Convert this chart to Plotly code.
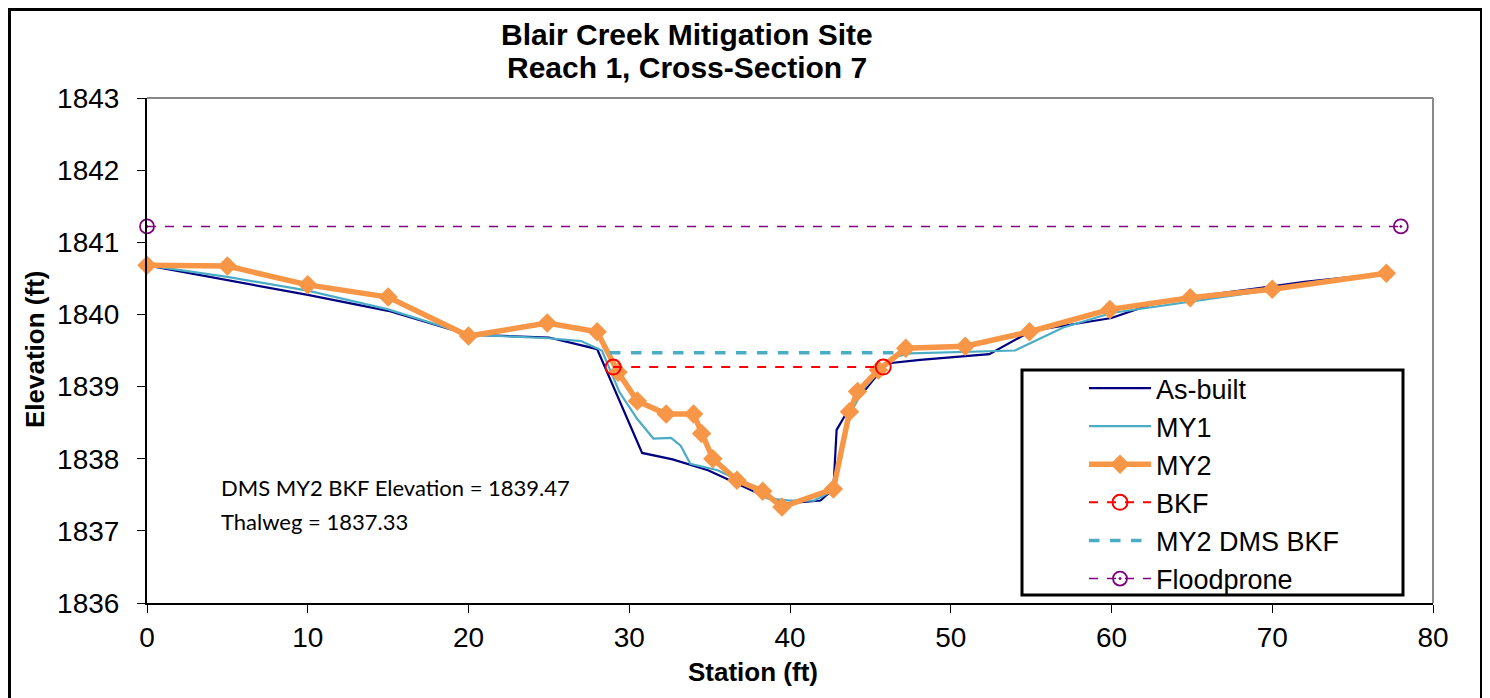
import plotly.graph_objects as go

# ---- data ----
sta_ab = [0, 10, 15, 20, 25, 28.0, 30.8, 32.7, 34.9, 36.5, 38.5, 39.8, 41.9, 42.7, 42.9, 43.5, 45.5, 46.0, 48.1, 52.4, 55.0, 60.0, 63.0, 72.0, 77.1]
elev_ab = [1840.68, 1840.27, 1840.05, 1839.72, 1839.68, 1839.52, 1838.08, 1837.99, 1837.84, 1837.68, 1837.47, 1837.38, 1837.42, 1837.58, 1838.40, 1838.63, 1839.18, 1839.32, 1839.37, 1839.45, 1839.77, 1839.95, 1840.18, 1840.45, 1840.57]

sta_my1 = [0, 5, 10, 15, 20, 25, 27.0, 28.3, 29.4, 30.5, 31.5, 32.6, 33.2, 33.8, 35.5, 37.0, 38.6, 40.0, 41.5, 42.6, 43.6, 44.5, 46.3, 47.5, 54.0, 57.0, 60.0, 65.0, 70.0, 77.1]
elev_my1 = [1840.68, 1840.52, 1840.33, 1840.07, 1839.72, 1839.67, 1839.63, 1839.50, 1838.92, 1838.55, 1838.28, 1838.29, 1838.18, 1837.93, 1837.84, 1837.68, 1837.45, 1837.42, 1837.42, 1837.55, 1838.55, 1838.95, 1839.40, 1839.46, 1839.50, 1839.82, 1840.02, 1840.18, 1840.35, 1840.57]

sta_my2 = [0, 5, 10, 15, 20, 24.9, 28.0, 29.3, 30.5, 32.3, 34.0, 34.5, 35.2, 36.7, 38.3, 39.5, 42.7, 43.7, 44.2, 45.5, 47.2, 50.9, 54.9, 59.9, 64.9, 70.0, 77.1]
elev_my2 = [1840.68, 1840.67, 1840.41, 1840.24, 1839.70, 1839.88, 1839.76, 1839.20, 1838.80, 1838.62, 1838.62, 1838.35, 1838.00, 1837.70, 1837.55, 1837.33, 1837.58, 1838.65, 1838.93, 1839.23, 1839.53, 1839.56, 1839.76, 1840.07, 1840.23, 1840.35, 1840.57]

sta_bkf = [29.0, 45.8]
elev_bkf = [1839.27, 1839.27]

sta_dms = [28.8, 46.7]
elev_dms = [1839.47, 1839.47]

sta_fp = [0, 78.0]
elev_fp = [1841.22, 1841.22]

x_ticks = [0, 10, 20, 30, 40, 50, 60, 70, 80]
y_ticks = [1836, 1837, 1838, 1839, 1840, 1841, 1842, 1843]

title_lines = ["Blair Creek Mitigation Site", "Reach 1, Cross-Section 7"]
note_lines = ["DMS MY2 BKF Elevation = 1839.47", "Thalweg = 1837.33"]

# ---- layout geometry (page pixels; page body has an 8px margin) ----
OFF = 8
PAGE_W, PAGE_H = 1490, 698
W, H = PAGE_W - OFF, PAGE_H - OFF
L, R, T, B = 147, 1433, 98, 603          # plot area in page pixels
pw, ph = R - L, B - T


def px(xp):
    return (xp - L) / pw


def py(yp):
    return (B - yp) / ph


FONT = "Liberation Sans, Arial, sans-serif"
NOTE_FONT = "Lato, Carlito, sans-serif"

fig = go.Figure()
fig.add_trace(go.Scatter(x=sta_ab, y=elev_ab, name="As-built", mode="lines",
                         line=dict(color="#000080", width=2.2), legendgroup="a"))
fig.add_trace(go.Scatter(x=sta_my1, y=elev_my1, name="MY1", mode="lines",
                         line=dict(color="#4bacc6", width=2.2), legendgroup="b"))
fig.add_trace(go.Scatter(x=sta_my2, y=elev_my2, name="MY2", mode="lines+markers",
                         line=dict(color="#f79646", width=5.5),
                         marker=dict(symbol="diamond", size=15, color="#f79646"), legendgroup="c"))
fig.add_trace(go.Scatter(x=sta_bkf, y=elev_bkf, name="BKF", mode="lines+markers",
                         line=dict(color="#ff0000", width=2, dash="dash"),
                         marker=dict(symbol="circle-open", size=15, color="#ff0000", line=dict(width=2)),
                         legendgroup="d"))
fig.add_trace(go.Scatter(x=sta_dms, y=elev_dms, name="MY2 DMS BKF", mode="lines",
                         line=dict(color="#4bacc6", width=3.5, dash="dash"), legendgroup="e"))
fig.add_trace(go.Scatter(x=sta_fp, y=elev_fp, name="Floodprone", mode="lines+markers",
                         line=dict(color="#800080", width=1.5, dash="dash"),
                         marker=dict(symbol="circle-open-dot", size=14, color="#800080", line=dict(width=1.8)),
                         legendgroup="f"))
fig.update_traces(cliponaxis=False)

shapes = [
    # outer frame
    dict(type="rect", xref="paper", yref="paper", x0=px(9.5), x1=px(1481.5), y0=py(702), y1=py(9.5),
         line=dict(color="black", width=3)),
    # plot area top / right border
    dict(type="line", xref="paper", yref="paper", x0=0, x1=1, y0=1, y1=1,
         line=dict(color="#898989", width=2)),
    dict(type="line", xref="paper", yref="paper", x0=1, x1=1, y0=0, y1=1,
         line=dict(color="#898989", width=2)),
    # legend box
    dict(type="rect", xref="paper", yref="paper", x0=px(1022), x1=px(1403), y0=py(595), y1=py(370),
         line=dict(color="black", width=3), fillcolor="white", layer="below"),
]

annotations = [
    dict(text="<b>" + title_lines[0] + "</b>", xref="paper", yref="paper",
         x=px(687), y=py(35), xanchor="center", yanchor="middle", showarrow=False,
         font=dict(family=FONT, size=30, color="black")),
    dict(text="<b>" + title_lines[1] + "</b>", xref="paper", yref="paper",
         x=px(687), y=py(68), xanchor="center", yanchor="middle", showarrow=False,
         font=dict(family=FONT, size=30, color="black")),
    dict(text="<b>Station (ft)</b>", xref="paper", yref="paper", x=px(753), y=py(672),
         xanchor="center", yanchor="middle", showarrow=False,
         font=dict(family=FONT, size=26, color="black")),
    dict(text="<b>Elevation (ft)</b>", xref="paper", yref="paper", x=px(35), y=py(350),
         xanchor="center", yanchor="middle", showarrow=False, textangle=-90,
         font=dict(family=FONT, size=26, color="black")),
    dict(text=note_lines[0], xref="paper", yref="paper", x=px(219), y=py(487),
         xanchor="left", yanchor="middle", showarrow=False,
         font=dict(family=NOTE_FONT, size=22, color="black")),
    dict(text=note_lines[1], xref="paper", yref="paper", x=px(219), y=py(521),
         xanchor="left", yanchor="middle", showarrow=False,
         font=dict(family=NOTE_FONT, size=22, color="black")),
]

fig.update_layout(
    width=W, height=H,
    margin=dict(l=L - OFF, r=PAGE_W - R, t=T - OFF, b=PAGE_H - B),
    paper_bgcolor="white", plot_bgcolor="white",
    showlegend=True,
    legend=dict(x=px(1084), y=py(364), xanchor="left", yanchor="top",
                bgcolor="rgba(0,0,0,0)", borderwidth=0, itemwidth=62,
                tracegroupgap=0,
                font=dict(family=FONT, size=27, color="black")),
    xaxis=dict(range=[0, 80], tickvals=x_ticks, ticktext=[str(v) for v in x_ticks],
               showgrid=False, zeroline=False, showline=True, linecolor="black", linewidth=2,
               ticks="outside", ticklen=8, tickcolor="black",
               tickfont=dict(family=FONT, size=28, color="black")),
    yaxis=dict(range=[1836, 1843], tickvals=y_ticks, ticktext=[str(v) for v in y_ticks],
               showgrid=False, zeroline=False, showline=True, linecolor="black", linewidth=2,
               ticks="outside", ticklen=8, tickcolor="black", ticklabelstandoff=12,
               tickfont=dict(family=FONT, size=28, color="black")),
    shapes=shapes,
    annotations=annotations,
)

fig.write_html("out.html")
